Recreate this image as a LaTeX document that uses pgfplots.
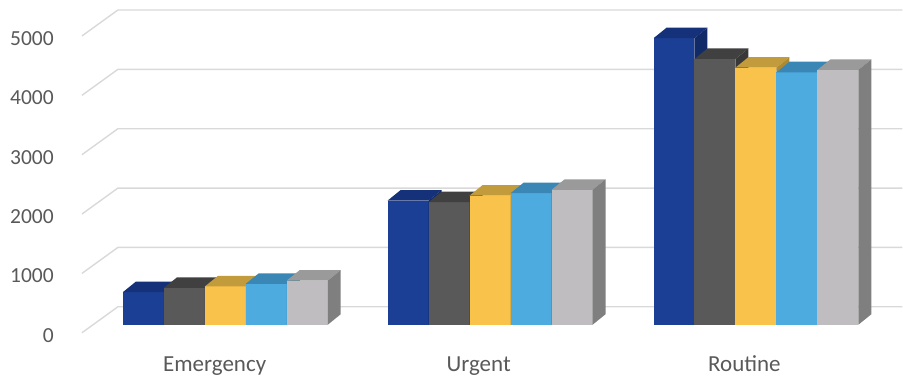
\documentclass[border=0pt]{standalone}
\usepackage{pgfplots}
\pgfplotsset{compat=1.18}
\usepackage{pgfplotstable}
\usepackage{fontspec}
\setmainfont{Carlito}

\definecolor{txt}{HTML}{595959}
\definecolor{gridc}{HTML}{D9D9D9}
% front / top / side shades of each series
\definecolor{s1f}{HTML}{1B3F94}\definecolor{s1t}{HTML}{15317A}\definecolor{s1s}{HTML}{112A68}
\definecolor{s2f}{HTML}{595959}\definecolor{s2t}{HTML}{404040}\definecolor{s2s}{HTML}{383838}
\definecolor{s3f}{HTML}{F9C34B}\definecolor{s3t}{HTML}{C29B3C}\definecolor{s3s}{HTML}{B08A30}
\definecolor{s4f}{HTML}{4EABDF}\definecolor{s4t}{HTML}{3A86B4}\definecolor{s4s}{HTML}{3378A0}
\definecolor{s5f}{HTML}{BFBDBF}\definecolor{s5t}{HTML}{9A9A9A}\definecolor{s5s}{HTML}{7F7F7F}

% one row per category: left edge of its group, then the five series
\pgfplotstableread{
cat       left s1   s2   s3   s4   s5
Emergency 123  550  620  645  690  745
Urgent    388  2093 2066 2177 2217 2273
Routine   654  4827 4478 4332 4254 4293
}\data

\def\bw{41}   % bar width
\def\dx{13}   % depth offset, x units
\def\dy{177}  % depth offset, value units

% a box: front face, top face and right side face
\newcommand\drawbox[3]{%
  \pgfmathsetmacro\xa{#1}%
  \pgfmathsetmacro\xb{#1+\bw}%
  \pgfmathsetmacro\xc{#1+\dx}%
  \pgfmathsetmacro\xd{#1+\bw+\dx}%
  \pgfmathsetmacro\yt{#2+\dy}%
  \edef\temp{%
    \noexpand\addplot[fill=#3f] coordinates {(\xa,0) (\xb,0) (\xb,#2) (\xa,#2)} -- cycle;
    \noexpand\addplot[fill=#3t] coordinates {(\xa,#2) (\xb,#2) (\xd,\yt) (\xc,\yt)} -- cycle;
    \noexpand\addplot[fill=#3s] coordinates {(\xb,0) (\xd,\dy) (\xd,\yt) (\xb,#2)} -- cycle;
  }\temp
}

\begin{document}
\begin{tikzpicture}
\begin{axis}[
  width=903pt, height=377pt, scale only axis,
  xmin=0, xmax=903, ymin=-875.4, ymax=5471.4,
  axis line style={draw=none}, tick style={draw=none},
  ytick={0,1000,2000,3000,4000,5000},
  xtick={214.8,479,745}, xticklabels={Emergency,Urgent,Routine},
  /pgf/number format/assume math mode=true,
  /pgf/number format/1000 sep={},
  ticklabel style={text=txt, inner sep=0pt},
  yticklabel style={font=\fontsize{21.5}{24}\selectfont, anchor=base east, xshift=54pt, yshift=-17.5pt},
  xticklabel style={font=\fontsize{23}{26}\selectfont, anchor=base, yshift=5.3pt},
  every axis plot/.append style={draw=none, mark=none},
  clip=false,
]
% floor and wall grid lines, slanting back from the value labels
\pgfplotsinvokeforeach{0,1000,2000,3000,4000,5000}{
  \addplot[draw=gridc, line width=1.4pt] table[row sep=\\, y expr=\thisrow{y}+#1]
    {x y\\ 82 -135\\ 118 303\\ 903 303\\};
}
% bars, drawn left to right
\foreach \s in {1,...,5}{
  \foreach \r in {0,1,2}{
    \pgfplotstablegetelem{\r}{left}\of\data \let\lft\pgfplotsretval
    \pgfplotstablegetelem{\r}{s\s}\of\data \let\val\pgfplotsretval
    \pgfmathsetmacro\xl{\lft+(\s-1)*\bw}
    \drawbox{\xl}{\val}{s\s}
  }
}
\end{axis}
\end{tikzpicture}
\end{document}
